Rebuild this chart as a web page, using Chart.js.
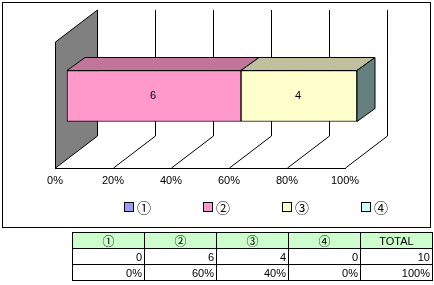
<!DOCTYPE html>
<html><head><meta charset="utf-8">
<script src="https://cdn.jsdelivr.net/npm/chart.js@4"></script>
<style>
html,body{margin:0;padding:0;background:#fff;}
#wrap{position:relative;width:434px;height:285px;overflow:hidden;font-family:"Liberation Sans",Arial,sans-serif;}
#c{position:absolute;left:0;top:0;}
#legend{position:absolute;top:199px;left:124px;height:16px;width:300px;}
.li{position:absolute;top:0;height:16px;display:flex;align-items:center;}
.sw{width:8px;height:8px;border:1px solid #000;}
.lt{font-family:"Noto Sans CJK JP";font-size:14px;margin-left:3px;line-height:16px;}
table{position:absolute;left:72px;top:232px;border-collapse:collapse;table-layout:fixed;width:361px;font-size:11px;}
td{border:1px solid #000;padding:0 2px;height:15px;line-height:14px;text-align:right;overflow:hidden;white-space:nowrap;}
tr.h td{background:#ccffcc;text-align:center;font-family:"Noto Sans CJK JP";font-size:12px;}
</style>
</head><body>
<div id="wrap">
<canvas id="c" width="434" height="230"></canvas>
<div id="legend"></div>
<table id="tbl"><colgroup><col style="width:72px"><col style="width:72px"><col style="width:72px"><col style="width:72px"><col style="width:72px"></colgroup><tbody></tbody></table>
</div>
<script>
const categories = [''];
const seriesLabels = ['①','②','③','④'];
const counts = [0, 6, 4, 0];
const percents = [0, 60, 40, 0];
const totalLabel = 'TOTAL';
const totalCount = 10;
const totalPercent = 100;
const tickLabels = ['0%','20%','40%','60%','80%','100%'];

const frontColors = ['#9999ff','#ff99cc','#ffffcc','#ccffff'];
const topColors = ['#7373bf','#c07599','#c0c09c','#99bfbf'];
const sideColors = ['#4d4d80','#804d66','#668080','#668080'];
const WALL_DX = 42, WALL_DY = -32;
const BAR_DX = 12, BAR_DY = -9;
const BAR_DEPTH_X = 18, BAR_DEPTH_Y = -13;

const threeD = {
  id: 'threeD',
  beforeDatasetsDraw(chart) {
    const ctx = chart.ctx, a = chart.chartArea, xs = chart.scales.x;
    ctx.save();
    ctx.strokeStyle = '#000'; ctx.lineWidth = 1;
    ctx.strokeRect(2.5, 2.5, 428, 225);
    const x0 = Math.round(xs.getPixelForValue(0)) + 0.5;
    ctx.beginPath();
    ctx.moveTo(x0, a.top);
    ctx.lineTo(x0 + WALL_DX, a.top + WALL_DY);
    ctx.lineTo(x0 + WALL_DX, a.bottom + WALL_DY);
    ctx.lineTo(x0, a.bottom);
    ctx.closePath();
    ctx.fillStyle = '#808080'; ctx.fill();
    ctx.stroke();
    for (let i = 1; i < tickLabels.length; i++) {
      const v = i * 20;
      const fx = Math.round(xs.getPixelForValue(v)) + 0.5;
      ctx.beginPath();
      ctx.moveTo(fx, a.bottom);
      ctx.lineTo(fx + WALL_DX, a.bottom + WALL_DY);
      ctx.lineTo(fx + WALL_DX, a.top + WALL_DY);
      ctx.stroke();
    }
    ctx.restore();
    ctx.save();
    ctx.translate(BAR_DX, BAR_DY);
  },
  afterDatasetsDraw(chart) {
    const ctx = chart.ctx;
    let last = null;
    chart.data.datasets.forEach((ds, i) => {
      const el = chart.getDatasetMeta(i).data[0];
      if (!el || percents[i] === 0) return;
      const l = Math.min(el.x, el.base), r = Math.max(el.x, el.base);
      const t = el.y - el.height / 2, b = el.y + el.height / 2;
      ctx.beginPath();
      ctx.moveTo(l, t);
      ctx.lineTo(l + BAR_DEPTH_X, t + BAR_DEPTH_Y);
      ctx.lineTo(r + BAR_DEPTH_X, t + BAR_DEPTH_Y);
      ctx.lineTo(r, t);
      ctx.closePath();
      ctx.fillStyle = topColors[i]; ctx.fill();
      ctx.strokeStyle = '#000'; ctx.lineWidth = 1; ctx.stroke();
      last = {i, r, t, b};
      ctx.fillStyle = '#000';
      ctx.font = '11px "Liberation Sans", Arial, sans-serif';
      ctx.textAlign = 'center'; ctx.textBaseline = 'middle';
      ctx.fillText(String(counts[i]), (l + r) / 2 - 1, el.y);
    });
    if (last) {
      const {i, r, t, b} = last;
      ctx.beginPath();
      ctx.moveTo(r, t);
      ctx.lineTo(r + BAR_DEPTH_X, t + BAR_DEPTH_Y);
      ctx.lineTo(r + BAR_DEPTH_X, b + BAR_DEPTH_Y);
      ctx.lineTo(r, b);
      ctx.closePath();
      ctx.fillStyle = sideColors[i]; ctx.fill();
      ctx.strokeStyle = '#000'; ctx.stroke();
    }
    ctx.restore();
  }
};

new Chart(document.getElementById('c'), {
  type: 'bar',
  data: {
    labels: categories,
    datasets: seriesLabels.map((lab, i) => ({
      label: lab,
      data: [percents[i]],
      backgroundColor: frontColors[i],
      borderColor: '#000',
      borderWidth: 1,
      borderSkipped: false,
      barThickness: 51,
      clip: false
    }))
  },
  options: {
    indexAxis: 'y',
    responsive: false,
    animation: false,
    devicePixelRatio: 1,
    layout: { padding: { left: 55, right: 89, top: 42, bottom: 40 } },
    plugins: { legend: { display: false }, tooltip: { enabled: false } },
    scales: {
      x: {
        stacked: true, min: 0, max: 100,
        grid: { display: false, drawTicks: false },
        border: { display: true, color: '#000', width: 1 },
        ticks: {
          stepSize: 20, padding: 6, color: '#000', maxRotation: 0,
          font: { family: '"Liberation Sans", Arial, sans-serif', size: 11 },
          callback: (v, idx) => tickLabels[idx]
        },
        afterFit: (axis) => { axis.height = 22; }
      },
      y: { stacked: true, display: false }
    }
  },
  plugins: [threeD]
});

const lg = document.getElementById('legend');
seriesLabels.forEach((lab, i) => {
  const d = document.createElement('div');
  d.className = 'li';
  d.style.left = (i * 79) + 'px';
  d.innerHTML = '<div class="sw" style="background:' + frontColors[i] + '"></div><span class="lt">' + lab + '</span>';
  lg.appendChild(d);
});

const tb = document.querySelector('#tbl tbody');
const rows = [
  {cls: 'h', cells: seriesLabels.concat([totalLabel])},
  {cls: '', cells: counts.map(String).concat([String(totalCount)])},
  {cls: '', cells: percents.map(v => v + '%').concat([totalPercent + '%'])}
];
rows.forEach(r => {
  const tr = document.createElement('tr');
  if (r.cls) tr.className = r.cls;
  r.cells.forEach((c, j) => {
    const td = document.createElement('td');
    td.textContent = c;
    if (r.cls === 'h' && j === 4) { td.style.fontFamily = '"Liberation Sans", Arial, sans-serif'; td.style.fontSize = '11px'; }
    tr.appendChild(td);
  });
  tb.appendChild(tr);
});
</script>
</body></html>
